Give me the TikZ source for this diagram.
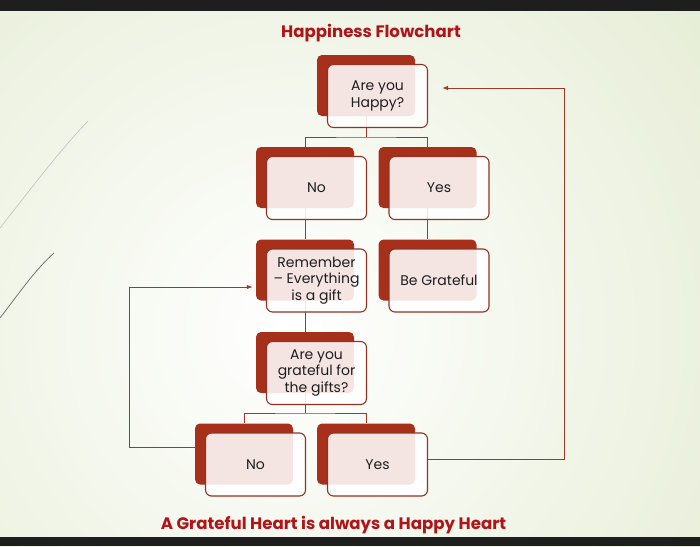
\documentclass[tikz,border=0pt]{standalone}
\usepackage{fontspec}
\setmainfont{Poppins}
\usetikzlibrary{calc,arrows.meta}
\definecolor{bgEdge}{RGB}{224,233,204}
\definecolor{barDark}{RGB}{30,30,30}
\definecolor{boxRed}{RGB}{166,48,26}
\definecolor{lineRed}{RGB}{160,56,40}
\definecolor{titleRed}{RGB}{176,20,24}
\definecolor{txt}{RGB}{30,30,30}
\pgfdeclarelayer{bgl}
\pgfdeclarelayer{connl}
\pgfsetlayers{bgl,connl,main}
\tikzset{
 backbox/.style={fill=boxRed, rounded corners=5pt, minimum width=98pt, minimum height=61pt, inner sep=0pt},
 frontbox/.style={draw=lineRed!90!black, line width=1.1pt, fill=white, fill opacity=0.88, text opacity=1, rounded corners=6pt, minimum width=100pt, minimum height=63pt, align=center, inner sep=2pt, text=txt, font=\fontsize{14}{16.5}\selectfont},
 conn/.style={draw=lineRed, line width=1pt},
 arr/.style={conn, -{Latex[length=6pt,width=4.5pt]}},
 heading/.style={text=titleRed, font=\bfseries\fontsize{16.6}{20}\selectfont, anchor=base}
}
\newcommand\twobox[4]{%
 \node[backbox] (#1B) at (#2,#3) {};
 \node[frontbox] (#1) at (#2+11.5,#3+10.5) {#4};}
\begin{document}
\begin{tikzpicture}[x=1pt,y=-1pt]
\useasboundingbox (0,0) rectangle (700,546);
\begin{pgfonlayer}{bgl}
\fill[bgEdge] (0,0) rectangle (700,546);
\begin{scope}
\clip (0,0) rectangle (700,546);
\shade[inner color=white, outer color=bgEdge] (290,330) circle (660);
\end{scope}
\fill[barDark] (0,0) rectangle (700,11);
\fill[barDark] (0,537) rectangle (700,546);
\draw[gray!50, line width=0.6pt] (0,228) .. controls (30,190) and (60,150) .. (88,121);
\draw[gray!90!black, line width=0.8pt] (0,318) .. controls (20,292) and (35,270) .. (54,253);
\end{pgfonlayer}

\node[heading] (title) at (371,37) {Happiness Flowchart};
\node[heading] (motto) at (333.5,529) {A Grateful Heart is always a Happy Heart};

\twobox{happy}{366}{85.5}{Are you\\Happy?}
\twobox{noA}{305}{177.5}{No}
\twobox{yesA}{427.5}{177.5}{Yes}
\twobox{rem}{305}{270}{Remember\\– Everything\\is a gift}
\twobox{be}{427.5}{270}{Be Grateful}
\twobox{gr}{305}{362.5}{Are you\\grateful for\\the gifts?}
\twobox{noB}{244}{454}{No}
\twobox{yesB}{366}{454}{Yes}

\begin{pgfonlayer}{connl}
\coordinate (bar1) at (366,137);
\draw[conn] (happyB.south) -- (bar1);
\draw[conn] (noAB.north) |- (bar1) -| (yesAB.north);
\draw[conn] (noAB.south) -- (remB.north);
\draw[conn] (yesAB.south) -- (beB.north);
\draw[conn] (remB.south) -- (grB.north);
\coordinate (bar2) at (305,413);
\draw[conn] (grB.south) -- (bar2);
\draw[conn] (noBB.north) |- (bar2) -| (yesBB.north);
\coordinate (l1) at (129,447);
\coordinate (l2) at (129,287);
\draw[arr] (noBB.west |- l1) -- (l1) -- (l2) -- ([xshift=-3pt]remB.west |- l2);
\coordinate (r1) at (564,459);
\coordinate (r2) at (564,88);
\draw[arr] (yesB.east |- r1) -- (r1) -- (r2) -- ([xshift=14pt]happy.east |- r2);
\end{pgfonlayer}
\end{tikzpicture}
\end{document}
